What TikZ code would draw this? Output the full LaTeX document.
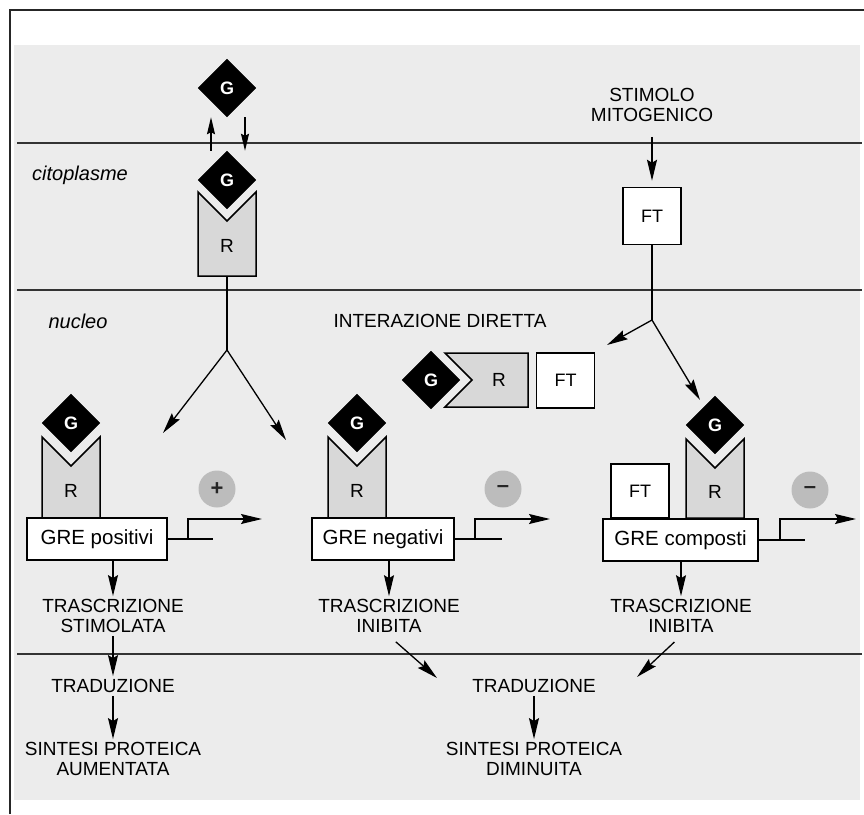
\documentclass[tikz,border=0pt]{standalone}
\usepackage{fontspec}
\setmainfont{Liberation Sans}
\usetikzlibrary{shapes.geometric,arrows.meta,calc}
\definecolor{bgg}{RGB}{236,236,236}
\definecolor{rfill}{RGB}{216,216,216}
\definecolor{cfill}{RGB}{188,188,188}
\tikzset{
  txt/.style={font=\fontsize{19}{20}\selectfont, inner sep=3pt, align=center},
  itl/.style={font=\fontsize{20}{20}\selectfont\itshape, inner sep=2pt},
  gdia/.style={shape=diamond, aspect=1, fill=black, draw=black, minimum width=58pt, minimum height=58pt, inner sep=0pt, text=white, font=\fontsize{18}{18}\selectfont\bfseries},
  rshape/.style={draw=black, fill=rfill, line width=1.5pt, line join=miter},
  rlbl/.style={font=\fontsize{19}{19}\selectfont, inner sep=0pt},
  ftbox/.style={draw=black, fill=white, line width=1.5pt, minimum width=58pt, minimum height=57pt, inner sep=0pt, font=\fontsize{18}{18}\selectfont},
  grebox/.style={draw=black, fill=white, line width=1.2pt, minimum height=42pt, inner sep=0pt, font=\fontsize{20.5}{20.5}\selectfont},
  sgn/.style={circle, fill=cfill, minimum size=37pt, inner sep=0pt, font=\fontsize{22}{22}\selectfont\bfseries, text=black!85},
  arr/.style={line width=1.3pt, -{Stealth[length=21pt,width=10pt,inset=3pt]}},
  sarr/.style={line width=1.3pt, -{Stealth[length=17pt,width=8pt,inset=2pt]}},
  ln/.style={line width=1.3pt},
  sep/.style={line width=2pt, draw=black!80},
}
\begin{document}
\begin{tikzpicture}[x=1pt,y=-1pt]
\useasboundingbox (0,0) rectangle (864,814);
% background
\fill[white] (0,0) rectangle (864,814);
\fill[bgg] (14,45) rectangle (860,800);
\fill[white] (14,12) rectangle (864,45);
% frame
\draw[line width=2.5pt, black!85] (10,814) -- (10,10) -- (864,10);
% separators
\draw[sep] (17,143) -- (862,143);
\draw[sep] (17,290) -- (862,290);
\draw[sep] (17,654) -- (862,654);

% compartment labels
\node[itl] (cito) at (80,175) {citoplasme};
\node[itl] (nucl) at (78,321) {nucleo};

% ---- top: G outside, G-R in cytoplasm
\node[gdia] (g0) at (227,88) {G};
\draw[rshape] (198,192) -- (198,276) -- (256,276) -- (256,192) -- (227,221) -- cycle;
\node[rlbl] (r0) at (227,246) {R};
\node[gdia] (g1) at (227,180) {G};
\coordinate (r0b) at (227,276);
\draw[sarr] ([xshift=-16pt]g1.north) -- ([xshift=-16pt]g0.south);
\draw[sarr] ([xshift=18pt]g0.south) -- ([xshift=18pt]g1.north);

% branch from R
\coordinate (br1) at (227,350);
\coordinate (e1) at (163,433);
\coordinate (e2) at (286,440);
\draw[ln] (r0b) -- (br1);
\draw[arr] (br1) -- (e1);
\draw[arr] (br1) -- (e2);

% ---- right top: stimolo / FT
\node[txt] (stim) at (652,105) {STIMOLO\\MITOGENICO};
\node[ftbox] (ft0) at (652,216) {FT};
\draw[arr, shorten <=12pt, shorten >=6pt] (stim.south) -- (ft0.north);
\coordinate (br2) at (652,320);
\coordinate (e3) at (607,345);
\coordinate (e4) at (700,400);
\draw[ln] (ft0.south) -- (br2);
\draw[arr] (br2) -- (e3);
\draw[arr] (br2) -- (e4);

% ---- interazione diretta
\node[txt] (inter) at (440,321) {INTERAZIONE DIRETTA};
\draw[rshape] (445,353) -- (528,353) -- (528,407) -- (445,407) -- (472,380) -- cycle;
\node[rlbl] (rh) at (499,380) {R};
\node[gdia] (gh) at (431,380) {G};
\node[ftbox, minimum height=55pt] (fth) at (565.5,380.5) {FT};

% ---- left GRE positivi
\draw[rshape] (42,437) -- (42,518) -- (100,518) -- (100,437) -- (71,466) -- cycle;
\node[rlbl] (r1) at (71,491) {R};
\node[gdia] (g2) at (71,423) {G};
\node[grebox, minimum width=140pt] (gre1) at (97,539) {GRE positivi};
\coordinate (p1a) at (213,539);
\coordinate (p1b) at (188,539);
\coordinate (p1c) at (188,519);
\coordinate (p1d) at (262,519);
\draw[ln] (gre1.east) -- (p1a);
\draw[arr] (p1b) -- (p1c) -- (p1d);
\node[sgn] (plus) at (217,489) {+};

% ---- middle GRE negativi
\draw[rshape] (328,437) -- (328,518) -- (386,518) -- (386,437) -- (357,466) -- cycle;
\node[rlbl] (r2) at (357,491) {R};
\node[gdia] (g3) at (357,423) {G};
\node[grebox, minimum width=142pt] (gre2) at (383,539) {GRE negativi};
\coordinate (p2a) at (502,539);
\coordinate (p2b) at (475,539);
\coordinate (p2c) at (475,519);
\coordinate (p2d) at (550,519);
\draw[ln] (gre2.east) -- (p2a);
\draw[arr] (p2b) -- (p2c) -- (p2d);
\node[sgn] (minus1) at (503,489) {–};

% ---- right GRE composti
\node[ftbox, minimum height=54pt] (ft2) at (640,491) {FT};
\draw[rshape] (686,439) -- (686,518) -- (744,518) -- (744,439) -- (715,468) -- cycle;
\node[rlbl] (r3) at (715,492) {R};
\node[gdia] (g4) at (715,425) {G};
\node[grebox, minimum width=155pt] (gre3) at (680.5,540) {GRE composti};
\coordinate (p3a) at (805,540);
\coordinate (p3b) at (780,540);
\coordinate (p3c) at (780,519);
\coordinate (p3d) at (856,519);
\draw[ln] (gre3.east) -- (p3a);
\draw[arr] (p3b) -- (p3c) -- (p3d);
\node[sgn] (minus2) at (810,490) {–};

% ---- transcription outcomes
\node[txt] (t1) at (113,616) {TRASCRIZIONE\\STIMOLATA};
\node[txt] (t2) at (389,616) {TRASCRIZIONE\\INIBITA};
\node[txt] (t3) at (681,616) {TRASCRIZIONE\\INIBITA};
\draw[arr] (gre1.south -| t1.north) -- (t1.north);
\draw[arr] (gre2.south -| t2.north) -- (t2.north);
\draw[arr] (gre3.south -| t3.north) -- (t3.north);

% ---- translation
\node[txt] (tr1) at (113,686) {TRADUZIONE};
\node[txt] (tr2) at (534,686) {TRADUZIONE};
\draw[arr] (t1.south) -- (tr1.north);
\coordinate (d1) at (437,678);
\coordinate (d2) at (637,677);
\draw[arr, shorten <=9pt] (t2.south) -- (d1);
\draw[arr, shorten <=9pt] (t3.south) -- (d2);

% ---- protein synthesis
\node[txt] (s1) at (113,759) {SINTESI PROTEICA\\AUMENTATA};
\node[txt] (s2) at (534,759) {SINTESI PROTEICA\\DIMINUITA};
\draw[arr] (tr1.south) -- (s1.north);
\draw[arr] (tr2.south) -- (s2.north);
\end{tikzpicture}
\end{document}
